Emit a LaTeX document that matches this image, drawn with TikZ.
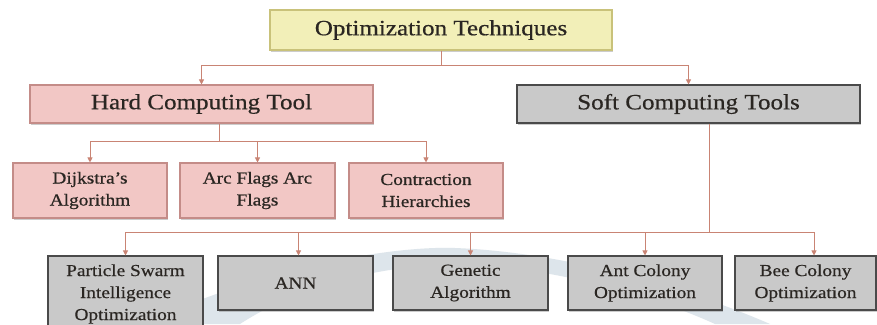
\documentclass[tikz,border=0pt]{standalone}
\usepackage{fontspec}
\setmainfont[FakeStretch=1.15,FakeBold=0.6]{Liberation Serif}
\usetikzlibrary{arrows.meta,shadows,calc}
\definecolor{topfill}{HTML}{F2EFB8}
\definecolor{topdraw}{HTML}{C9C27A}
\definecolor{hardfill}{HTML}{F2C7C5}
\definecolor{harddraw}{HTML}{C48C88}
\definecolor{softfill}{HTML}{C9C9C9}
\definecolor{softdraw}{HTML}{4A4A4A}
\definecolor{conn}{HTML}{C98474}
\definecolor{txt}{HTML}{2A2622}
\definecolor{wmark}{HTML}{DDE5EB}
\tikzset{
  box/.style={rectangle, inner sep=0pt, align=center, text=txt, line width=1.1pt,
    drop shadow={shadow xshift=1pt, shadow yshift=-1.5pt, opacity=0.4}},
  topbox/.style={box, fill=topfill, draw=topdraw, font=\fontsize{21.8}{24}\selectfont},
  hardbig/.style={box, fill=hardfill, draw=harddraw, font=\fontsize{21.8}{24}\selectfont},
  softbig/.style={box, fill=softfill, draw=softdraw, font=\fontsize{21.8}{24}\selectfont},
  hardsmall/.style={box, fill=hardfill, draw=harddraw, font=\fontsize{16.8}{22}\selectfont},
  softsmall/.style={box, fill=softfill, draw=softdraw, font=\fontsize{16.8}{22}\selectfont},
  link/.style={draw=conn, line width=0.9pt},
  arr/.style={link, -{Triangle[width=5pt,length=5pt]}}
}
\begin{document}
\begin{tikzpicture}[x=1pt,y=-1pt]
\clip (0,0) rectangle (877,324);
\fill[white] (0,0) rectangle (877,324);
% faint watermark swoosh
\fill[wmark] (200,300) .. controls (300,262) and (400,246) .. (455,248)
  .. controls (560,252) and (680,285) .. (770,324)
  -- (715,324) .. controls (640,290) and (540,266) .. (455,264)
  .. controls (380,266) and (300,285) .. (240,324) -- (200,324) -- cycle;

\node[topbox, minimum width=342pt, minimum height=40pt] (top) at (441,30) {Optimization Techniques};
\node[hardbig, minimum width=343pt, minimum height=38pt] (hard) at (201.5,104) {Hard Computing Tool};
\node[softbig, minimum width=343pt, minimum height=38pt] (soft) at (688.5,104) {Soft Computing Tools};

\node[hardsmall, minimum width=154pt, minimum height=55pt] (dij) at (90,190.5) {Dijkstra's\\Algorithm};
\node[hardsmall, minimum width=155pt, minimum height=55pt] (arc) at (257.5,190.5) {Arc Flags Arc\\Flags};
\node[hardsmall, minimum width=154pt, minimum height=55pt] (con) at (426,190.5) {Contraction\\Hierarchies};

\node[softsmall, minimum width=155pt, minimum height=76pt] (pso) at (125.5,294) {Particle Swarm\\Intelligence\\Optimization};
\node[softsmall, minimum width=155pt, minimum height=54pt] (ann) at (295.5,283) {ANN};
\node[softsmall, minimum width=155pt, minimum height=54pt] (gen) at (470.5,283) {Genetic\\Algorithm};
\node[softsmall, minimum width=154pt, minimum height=54pt] (ant) at (645,283) {Ant Colony\\Optimization};
\node[softsmall, minimum width=141pt, minimum height=54pt] (bee) at (805.5,283) {Bee Colony\\Optimization};

% top level connectors
\coordinate (tj) at ($(top.south)+(0,15)$);
\draw[link] (top.south) -- (tj);
\draw[arr] (tj) -| (hard.north);
\draw[arr] (tj) -| (soft.north);

% hard branch
\coordinate (hs) at ($(hard.south)+(17.5,0)$);
\coordinate (hj) at ($(hs)+(0,18)$);
\draw[link] (hs) -- (hj);
\draw[arr] (hj) -| (dij.north);
\draw[arr] (hj) -| (arc.north);
\draw[arr] (hj) -| (con.north);

% soft branch
\coordinate (ss) at ($(soft.south)+(20.5,0)$);
\coordinate (sj) at ($(ss)+(0,109)$);
\coordinate (annin) at ($(ann.north)+(3,0)$);
\coordinate (beein) at ($(bee.north)+(8.5,0)$);
\draw[link] (ss) -- (sj);
\draw[arr] (sj) -| (pso.north);
\draw[arr] (sj) -| (annin);
\draw[arr] (sj) -| (gen.north);
\draw[arr] (sj) -| (ant.north);
\draw[arr] (sj) -| (beein);
\end{tikzpicture}
\end{document}
